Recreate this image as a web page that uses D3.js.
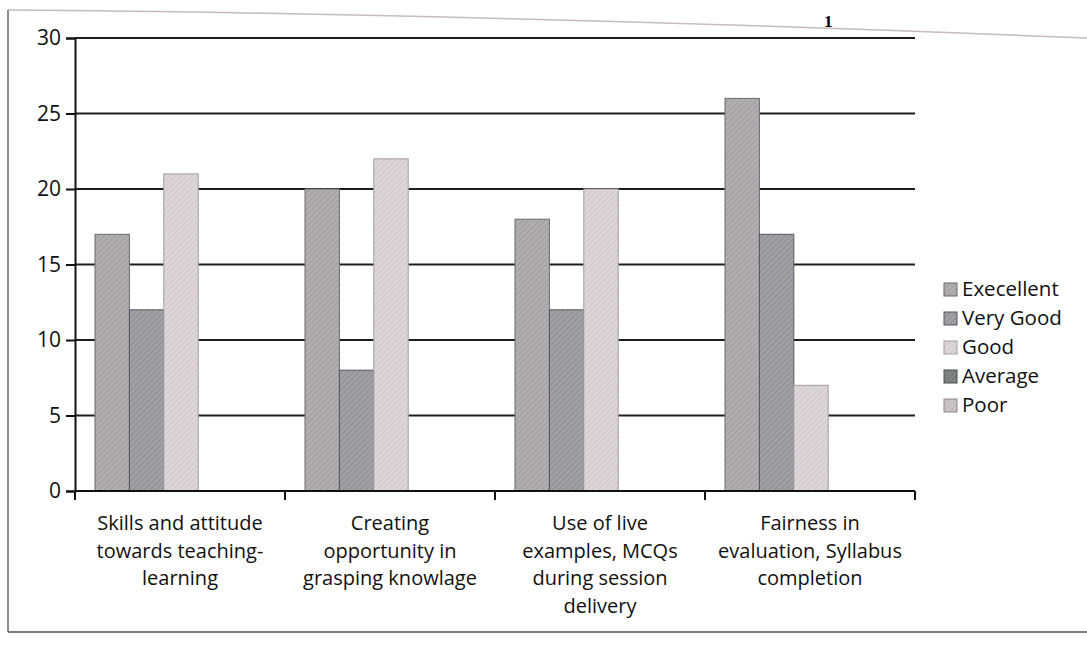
<!DOCTYPE html>
<html>
<head>
<meta charset="utf-8">
<script src="https://cdn.jsdelivr.net/npm/d3@7"></script>
<style>
  body { margin: 0; background: #fff; }
  svg { display: block; }
  .tick text { font-family: "Open Sans", sans-serif; }
</style>
</head>
<body>
<svg id="chart" width="1087" height="648"></svg>
<script>
// data (50 respondents per item)
const categories = [
    ['Skills and attitude', 'towards teaching-', 'learning'],
    ['Creating', 'opportunity in', 'grasping knowlage'],
    ['Use of live', 'examples, MCQs', 'during session', 'delivery'],
    ['Fairness in', 'evaluation, Syllabus', 'completion']
]
const seriesNames = ['Execellent', 'Very Good', 'Good', 'Average', 'Poor']
const excellent = [17, 20, 18, 26]
const veryGood = [12, 8, 12, 17]
const good = [21, 22, 20, 7]
const average = [0, 0, 0, 0]
const poor = [0, 0, 0, 0]
const yTicks = [0, 5, 10, 15, 20, 25, 30]

const seriesValues = [excellent, veryGood, good, average, poor]
const colors = ['#b1adb1', '#a29fa5', '#dcd5d9', '#7f8583', '#cbc3c6']
const hatch = ['#6a6a70', '#58565e', '#a59ca2', '#4a4f4d', '#8d8589']

const width = 1087, height = 648
const margin = {top: 38, right: 172, bottom: 157, left: 75}
const w = width - margin.left - margin.right
const h = height - margin.top - margin.bottom

const svg = d3.select('#chart')

// page frame from the scan
svg.append('path')
    .attr('d', 'M8,10 C300,12 700,22 1087,38')
    .attr('fill', 'none').attr('stroke', '#c4bcbe').attr('stroke-width', 1.5)
svg.append('line').attr('x1', 8).attr('x2', 8).attr('y1', 10).attr('y2', 632)
    .attr('stroke', '#666').attr('stroke-width', 1.5)
svg.append('line').attr('x1', 8).attr('x2', 1087).attr('y1', 632).attr('y2', 632)
    .attr('stroke', '#555').attr('stroke-width', 1.5)
svg.append('text').attr('x', 824).attr('y', 27)
    .style('font-family', '"Liberation Serif", serif').style('font-size', '17px')
    .style('font-weight', 'bold')
    .text('1')

// hatch patterns to mimic the printed texture
const defs = svg.append('defs')
seriesNames.forEach((s, i) => {
    const p = defs.append('pattern')
        .attr('id', 'pat' + i)
        .attr('patternUnits', 'userSpaceOnUse')
        .attr('width', 4).attr('height', 4)
        .attr('patternTransform', 'rotate(45)')
    p.append('rect').attr('width', 4).attr('height', 4).attr('fill', colors[i])
    p.append('line').attr('x1', 0).attr('y1', 0).attr('x2', 0).attr('y2', 4)
        .attr('stroke', hatch[i]).attr('stroke-width', 1).attr('opacity', 0.5)
})

const g = svg.append('g').attr('transform', `translate(${margin.left},${margin.top})`)

const x0 = d3.scaleBand().domain(d3.range(categories.length)).range([0, w])
const x1 = d3.scaleBand().domain(d3.range(seriesNames.length))
    .range([20, x0.bandwidth() - 18])
const y = d3.scaleLinear().domain([0, 30]).range([h, 0])

// gridlines
g.selectAll('.grid')
    .data(yTicks.filter(d => d > 0))
    .enter().append('line')
    .attr('x1', 0).attr('x2', w)
    .attr('y1', d => y(d)).attr('y2', d => y(d))
    .attr('stroke', '#1e1e1e').attr('stroke-width', 2)

// bars
const groups = g.selectAll('.grp')
    .data(categories)
    .enter().append('g')
    .attr('transform', (d, i) => `translate(${x0(i)},0)`)

groups.selectAll('rect')
    .data((d, ci) => seriesValues.map((vals, si) => ({si: si, v: vals[ci]})))
    .enter().append('rect')
    .filter(d => d.v > 0)
    .attr('x', d => x1(d.si))
    .attr('width', x1.bandwidth())
    .attr('y', d => y(d.v))
    .attr('height', d => h - y(d.v))
    .attr('fill', d => `url(#pat${d.si})`)
    .attr('stroke', d => hatch[d.si])
    .attr('stroke-width', 1)

// y axis
const yAxis = d3.axisLeft(y).tickValues(yTicks).tickSize(9).tickPadding(5)
const ya = g.append('g').call(yAxis)
ya.select('.domain').attr('stroke', '#111').attr('stroke-width', 2)
ya.selectAll('.tick line').attr('stroke', '#111').attr('stroke-width', 2)
ya.selectAll('.tick text').style('font-size', '21px').attr('fill', '#111')

// x axis with ticks at band edges
const xa = g.append('g').attr('transform', `translate(0,${h})`)
xa.append('line').attr('x1', 0).attr('x2', w).attr('stroke', '#111').attr('stroke-width', 2)
xa.selectAll('.xt')
    .data(d3.range(categories.length + 1))
    .enter().append('line')
    .attr('x1', i => i * x0.step()).attr('x2', i => i * x0.step())
    .attr('y1', 0).attr('y2', 9)
    .attr('stroke', '#111').attr('stroke-width', 2)

const lbl = xa.selectAll('.lbl')
    .data(categories)
    .enter().append('text')
    .attr('text-anchor', 'middle')
    .attr('y', 39)
    .style('font-family', '"Open Sans", sans-serif')
    .style('font-size', '20px')
    .attr('fill', '#111')
lbl.selectAll('tspan')
    .data((d, i) => d.map(t => ({t: t, i: i})))
    .enter().append('tspan')
    .attr('x', d => x0(d.i) + x0.bandwidth() / 2)
    .attr('dy', (d, k) => k === 0 ? 0 : 27.5)
    .text(d => d.t)

// legend
const leg = svg.append('g').attr('transform', 'translate(944,289)')
const item = leg.selectAll('g')
    .data(seriesNames)
    .enter().append('g')
    .attr('transform', (d, i) => `translate(0,${i * 29})`)
item.append('rect')
    .attr('x', 0).attr('y', -6).attr('width', 13).attr('height', 13)
    .attr('fill', (d, i) => `url(#pat${i})`)
    .attr('stroke', (d, i) => hatch[i]).attr('stroke-width', 1)
item.append('text')
    .attr('x', 18).attr('y', 7)
    .style('font-family', '"Open Sans", sans-serif')
    .style('font-size', '20.5px')
    .attr('fill', '#111')
    .text(d => d)
</script>
</body>
</html>
